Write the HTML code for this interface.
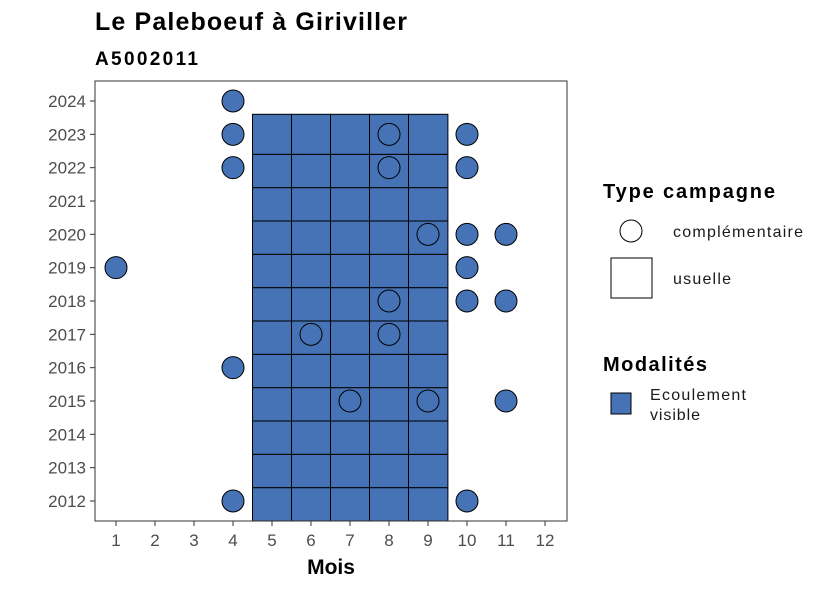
<!DOCTYPE html>
<html><head><meta charset="utf-8"><style>
body{margin:0;background:#fff}
svg{font-family:"Liberation Sans",sans-serif}
</style></head><body>
<svg id="c" width="826" height="590" viewBox="0 0 826 590">
<rect width="826" height="590" fill="#fff"/>
<text x="95" y="30" font-size="25" font-weight="bold" fill="#000" textLength="312">Le Paleboeuf à Giriviller</text>
<text x="95" y="65" font-size="19" font-weight="bold" fill="#000" textLength="103">A5002011</text>
<g id="tiles"></g>
<g id="pts"></g>
<rect x="95" y="81" width="472" height="440" fill="none" stroke="#333" stroke-width="1"/>
<g id="xax"></g>
<g id="yax"></g>
<text x="331" y="574" font-size="21" font-weight="bold" text-anchor="middle">Mois</text>
<g>
<text x="603" y="198" font-size="20" font-weight="bold" textLength="172">Type campagne</text>
<circle cx="631" cy="231" r="11" fill="#fff" stroke="#000"/>
<text x="673" y="237" font-size="16" fill="#1a1a1a" textLength="130">complémentaire</text>
<rect x="611" y="258" width="41" height="40" fill="#fff" stroke="#000"/>
<text x="673" y="284" font-size="16" fill="#1a1a1a" textLength="58">usuelle</text>
<text x="603" y="371" font-size="20" font-weight="bold" textLength="104">Modalités</text>
<rect x="611" y="393" width="20" height="21" fill="#4573b5" stroke="#000"/>
<text x="650" y="400" font-size="16" fill="#1a1a1a" textLength="96">Ecoulement</text>
<text x="650" y="420" font-size="16" fill="#1a1a1a" textLength="50">visible</text>
</g>
</svg>
<script>
const months=[1,2,3,4,5,6,7,8,9,10,11,12];
const years=[2012,2013,2014,2015,2016,2017,2018,2019,2020,2021,2022,2023,2024];
const tileMonths=[5,6,7,8,9];
const tileYears=[2012,2013,2014,2015,2016,2017,2018,2019,2020,2021,2022,2023];
const ptMonth=[4,4,4,10,10,10,11,1,10,10,11,4,11,4,10,8,8,9,8,6,8,7,9];
const ptYear=[2024,2023,2022,2023,2022,2020,2020,2019,2019,2018,2018,2016,2015,2012,2012,2023,2022,2020,2018,2017,2017,2015,2015];
const NS="http://www.w3.org/2000/svg";
const x=m=>116+(m-1)*39;
const y=v=>501-(v-2012)*(400/12);
const dx=39;
function mk(t,a,p){const e=document.createElementNS(NS,t);for(const k in a)e.setAttribute(k,a[k]);p.appendChild(e);return e;}
const tg=document.getElementById('tiles');
const maxY=Math.max(...tileYears);
tileYears.forEach(yr=>tileMonths.forEach(m=>{
 const top=(yr===maxY?y(yr+0.7):y(yr+0.5))+3.3;
 const bot=Math.min(521,y(yr-0.5)+3.3);
 const r=mk('rect',{x:x(m)-dx/2,y:top,width:dx+0.4,height:bot-top,fill:'#4573b5',stroke:'#000','stroke-width':1},tg);
 
 
}));
const pg=document.getElementById('pts');
ptMonth.forEach((m,i)=>{
 const c=mk('circle',{cx:x(m),cy:y(ptYear[i]),r:11,fill:'#4573b5',stroke:'#000','stroke-width':1},pg);
 
 
});
const xa=document.getElementById('xax');
months.forEach(m=>{
 const l=mk('line',{x1:x(m),x2:x(m),y1:521,y2:526,stroke:'#333'},xa);
 
 
 const t=mk('text',{x:x(m),y:546,'font-size':17,fill:'#4d4d4d','text-anchor':'middle'},xa);
 t.textContent=m;
 
 
});
const ya=document.getElementById('yax');
years.forEach(v=>{
 const l=mk('line',{x1:90,x2:95,y1:y(v),y2:y(v),stroke:'#333'},ya);
 
 
 const t=mk('text',{x:86,y:y(v)+6,'font-size':17,fill:'#4d4d4d','text-anchor':'end'},ya);
 t.textContent=v;
 
 
});
</script>
</body></html>
